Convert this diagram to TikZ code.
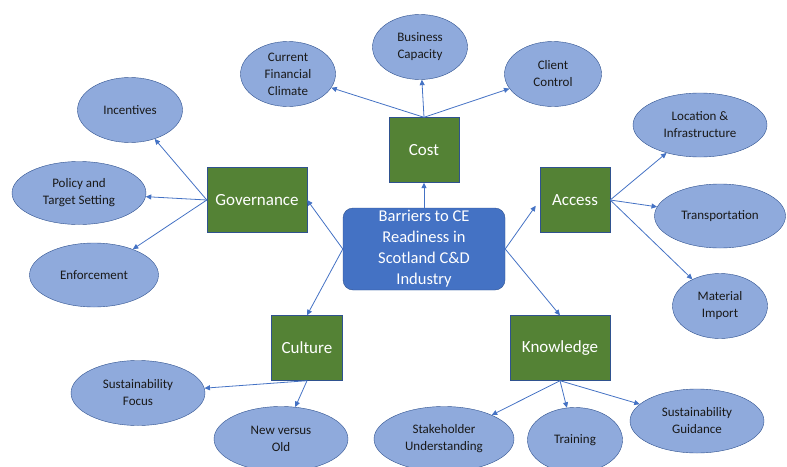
\documentclass[tikz,border=0pt]{standalone}
\usepackage{fontspec}
\setmainfont{Carlito}
\usetikzlibrary{shapes.geometric,arrows.meta}
\definecolor{barblue}{HTML}{4472C4}
\definecolor{rimblue}{HTML}{2F528F}
\definecolor{boxgreen}{HTML}{548235}
\definecolor{bubble}{HTML}{8FAADC}
\begin{document}
\begin{tikzpicture}[x=1pt,y=-1pt,
	core/.style={draw=rimblue,fill=barblue,text=white,rounded corners=10pt,minimum width=162pt,minimum height=82pt,inner sep=0pt,align=center,font=\fontsize{16.5}{21}\selectfont},
	theme/.style={draw=rimblue,fill=boxgreen,text=white,minimum height=65pt,inner sep=0pt,font=\fontsize{17}{20}\selectfont},
	leaf/.style={ellipse,draw=rimblue,fill=bubble,text=black!90,minimum height=65pt,inner sep=0pt,align=center,font=\fontsize{13}{17}\selectfont},
	arr/.style={draw=barblue,line width=0.8pt,-{Triangle[length=5.5pt,width=5pt]}}]
	\useasboundingbox (0,0) rectangle (787,466);
	%\draw[very thin,color=gray] (0,0) grid[step=50] (787,466);
	\node[core] (barriers) at (424,249) {Barriers to CE\\Readiness in\\Scotland C\&D\\Industry};
	\node[theme,minimum width=70pt] (cost) at (424,150) {Cost};
	\node[theme,minimum width=100pt] (governance) at (257,200) {Governance};
	\node[theme,minimum width=70pt] (access) at (575,200) {Access};
	\node[theme,minimum width=71pt] (culture) at (307,348) {Culture};
	\node[theme,minimum width=100pt] (knowledge) at (560,348) {Knowledge};
	% cost
	\node[leaf,minimum width=95pt] (climate) at (288,74) {Current\\Financial\\Climate};
	\node[leaf,minimum width=95pt] (capacity) at (420,47) {Business\\Capacity};
	\node[leaf,minimum width=97pt] (client) at (553,74) {Client\\Control};
	% governance
	\node[leaf,minimum width=105pt] (incentives) at (130,110) {Incentives};
	\node[leaf,minimum width=134pt,minimum height=63pt] (policy) at (79,193) {Policy and\\Target Setting};
	\node[leaf,minimum width=129pt,minimum height=64pt] (enforcement) at (94,275) {Enforcement};
	% access
	\node[leaf,minimum width=134pt,minimum height=64pt] (location) at (700,125) {Location \&\\Infrastructure};
	\node[leaf,minimum width=131pt,minimum height=64pt] (transport) at (720,216) {Transportation};
	\node[leaf,minimum width=95pt] (material) at (720,306) {Material\\Import};
	% culture
	\node[leaf,minimum width=134pt] (focus) at (138,393) {Sustainability\\Focus};
	\node[leaf,minimum width=134pt] (newold) at (281,439) {New versus\\Old};
	% knowledge
	\node[leaf,minimum width=140pt] (stakeholder) at (444,439) {Stakeholder\\Understanding};
	\node[leaf,minimum width=95pt] (training) at (575,440) {Training};
	\node[leaf,minimum width=134pt,minimum height=64pt] (guidance) at (697,421) {Sustainability\\Guidance};
	\draw[arr] (barriers.north) -- (cost.south);
	\draw[arr] (barriers.west) -- (governance.east);
	\draw[arr] (barriers.west) -- (culture.north);
	\draw[arr,shorten >=7pt] (barriers.east) -- (access.west);
	\draw[arr] (barriers.east) -- (knowledge.north);
	\foreach \n in {climate,capacity,client} \draw[arr] (cost.north) -- (\n);
	\foreach \n in {incentives,policy,enforcement} \draw[arr] (governance.west) -- (\n);
	\foreach \n in {location,transport,material} \draw[arr] (access.east) -- (\n);
	\foreach \n in {focus,newold} \draw[arr] (culture.south) -- (\n);
	\foreach \n in {stakeholder,training,guidance} \draw[arr] (knowledge.south) -- (\n);
\end{tikzpicture}
\end{document}
